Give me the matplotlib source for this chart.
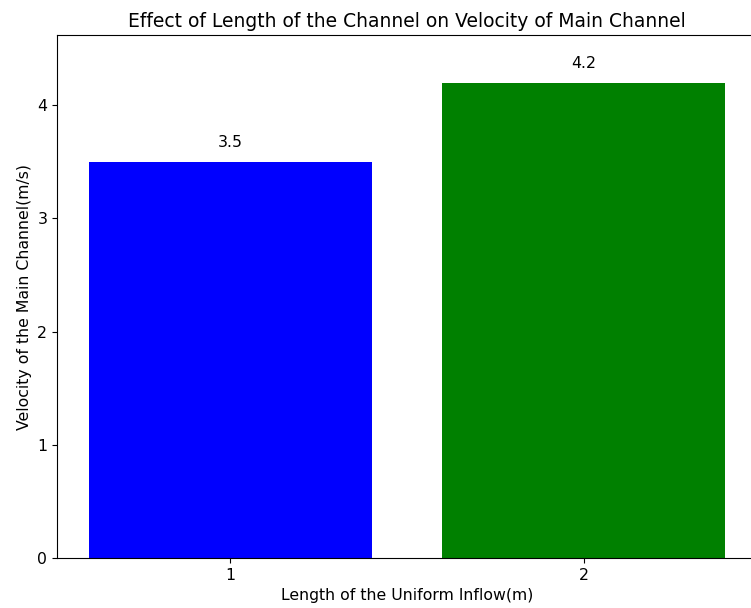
import matplotlib.pyplot as plt

lengths = [1, 2]
velocities = [3.5, 4.2]
colors = ['blue', 'green']

fig = plt.figure(figsize=(7.51, 6.08), dpi=100)
ax = fig.add_axes([57/751, 50/608, 700/751, 523/608])
ax.bar(lengths, velocities, color=colors, width=0.8)
for x, v in zip(lengths, velocities):
    ax.text(x, v + 0.1, str(v), ha='center', va='bottom', fontsize=11.3)
ax.set_xticks(lengths)
ax.tick_params(labelsize=11.3)
ax.set_ylim(0, max(velocities) * 1.1)
ax.set_xlabel('Length of the Uniform Inflow(m)', fontsize=11.3)
ax.set_ylabel('Velocity of the Main Channel(m/s)', fontsize=11.3)
ax.set_title('Effect of Length of the Channel on Velocity of Main Channel', fontsize=13.5)
fig.savefig('out.png', dpi=100)
